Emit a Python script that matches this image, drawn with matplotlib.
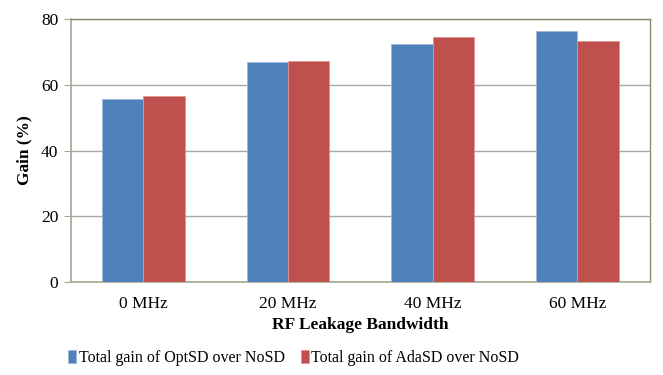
import matplotlib.pyplot as plt
import numpy as np

plt.rcParams['font.family'] = ['Liberation Serif', 'DejaVu Serif']

bandwidths = ["0 MHz", "20 MHz", "40 MHz", "60 MHz"]
optsd_gain = [55.6, 67.0, 72.5, 76.4]
adasd_gain = [56.5, 67.2, 74.5, 73.3]

BLUE = "#4F81BD"
RED = "#C0504D"
FRAME = "#8E8A6A"

fig = plt.figure(figsize=(6.63, 3.75), dpi=100)
ax = fig.add_axes([0.107, 0.248, 0.873, 0.701])

x = np.arange(len(bandwidths))
w = 0.285
ax.bar(x - w / 2, optsd_gain, w, color=BLUE, edgecolor="#9DB8DA", linewidth=0.6,
       label="Total gain of OptSD over NoSD", zorder=3)
ax.bar(x + w / 2, adasd_gain, w, color=RED, edgecolor="#DE9493", linewidth=0.6,
       label="Total gain of AdaSD over NoSD", zorder=3)

ax.set_xlim(-0.5, len(bandwidths) - 0.5)
ax.set_ylim(0, 80)
ax.set_yticks([0, 20, 40, 60, 80])
ax.set_xticks(x)
ax.set_xticklabels(bandwidths)
ax.yaxis.grid(True, color="#A6A6A6", linewidth=1.0, zorder=0)
ax.set_axisbelow(True)

for side in ["top", "right"]:
    ax.spines[side].set_color(FRAME)
    ax.spines[side].set_linewidth(1.0)
for side in ["left", "bottom"]:
    ax.spines[side].set_color("#A8A690")
    ax.spines[side].set_linewidth(1.2)

ax.tick_params(axis="x", length=0, labelsize=12.5, pad=10)
ax.tick_params(axis="y", length=5, color="#A8A690", labelsize=12.5, pad=4)

ax.set_ylabel("Gain (%)", fontsize=12.5, fontweight="bold", labelpad=6)
ax.set_xlabel("RF Leakage Bandwidth", fontsize=12.5, fontweight="bold", labelpad=4)

fig.legend(loc="center", bbox_to_anchor=(0.443, 0.045), ncol=2, frameon=False,
           fontsize=11.5, handlelength=0.5, handleheight=0.8, handletextpad=0.15,
           columnspacing=1.0)

fig.savefig("out.png", dpi=100)
